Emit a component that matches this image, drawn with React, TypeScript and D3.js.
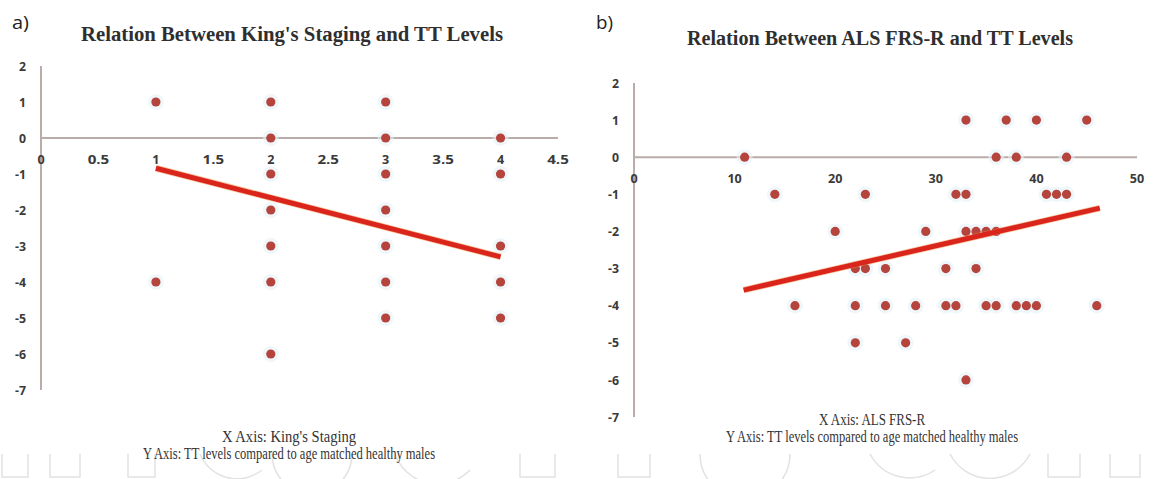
import React from "react";
import * as d3 from "d3";

// panel a) King's staging vs TT levels
const kingX = [1, 1, 2, 2, 2, 2, 2, 2, 2, 3, 3, 3, 3, 3, 3, 3, 4, 4, 4, 4, 4];
const kingY = [1, -4, 1, 0, -1, -2, -3, -4, -6, 1, 0, -1, -2, -3, -4, -5, 0, -1, -3, -4, -5];
const kingTrendX = [1, 4];
const kingTrendY = [-0.84, -3.3];
const kingXTicks = [0, 0.5, 1, 1.5, 2, 2.5, 3, 3.5, 4, 4.5];

// panel b) ALS FRS-R vs TT levels
const alsX = [
  33, 37, 40, 45,
  11, 36, 38, 43,
  14, 23, 32, 33, 41, 42, 43,
  20, 29, 33, 34, 35, 36,
  22, 23, 25, 31, 34,
  16, 22, 25, 28, 31, 32, 35, 36, 38, 39, 40, 46,
  22, 27,
  33,
];
const alsY = [
  1, 1, 1, 1,
  0, 0, 0, 0,
  -1, -1, -1, -1, -1, -1, -1,
  -2, -2, -2, -2, -2, -2,
  -3, -3, -3, -3, -3,
  -4, -4, -4, -4, -4, -4, -4, -4, -4, -4, -4, -4,
  -5, -5,
  -6,
];
const alsTrendX = [10.9, 46.3];
const alsTrendY = [-3.58, -1.37];
const alsXTicks = [0, 10, 20, 30, 40, 50];

const yTicks = [2, 1, 0, -1, -2, -3, -4, -5, -6, -7];

const axisColor = "#b9aca9";
const dotColor = "#b5443d";
const trendColor = "#d9251b";
const labelFont = "'Open Sans', sans-serif";
const serif = "'Liberation Serif', 'Times New Roman', serif";

type PanelProps = {
  xs: number[];
  ys: number[];
  trendX: number[];
  trendY: number[];
  xTicks: number[];
  x: d3.ScaleLinear<number, number>;
  y: d3.ScaleLinear<number, number>;
};

const Panel = ({ xs, ys, trendX, trendY, xTicks, x, y }: PanelProps) => {
  const line = d3
    .line<number>()
    .x((d) => x(d))
    .y((d, i) => y(trendY[i]));
  const [x0, xMax] = x.domain();
  return (
    <g>
      {/* axes */}
      <line x1={x(x0)} x2={x(x0)} y1={y(2)} y2={y(-7)} stroke={axisColor} strokeWidth={2} />
      <line x1={x(x0)} x2={x(xMax)} y1={y(0)} y2={y(0)} stroke={axisColor} strokeWidth={2} />
      {yTicks.map((t) => (
        <text
          key={"y" + t}
          x={x(x0) - 15}
          y={y(t)}
          dy="0.36em"
          textAnchor="end"
          fontFamily={labelFont}
          fontWeight={700}
          fontSize={13}
          fill="#3a3a3a"
          textLength={String(t).length > 1 ? 11 : 7}
          lengthAdjust="spacingAndGlyphs"
        >
          {t}
        </text>
      ))}
      {xTicks.map((t) => (
        <text
          key={"x" + t}
          x={x(t)}
          y={y(0) + 26}
          textAnchor="middle"
          fontFamily={labelFont}
          fontWeight={700}
          fontSize={13}
          fill="#3a3a3a"
          textLength={String(t).length * 7.2}
          lengthAdjust="spacingAndGlyphs"
        >
          {t}
        </text>
      ))}
      {/* points */}
      {xs.map((d, i) => (
        <circle key={i} cx={x(d)} cy={y(ys[i])} r={8} fill="#e6f1f8" opacity={0.6} />
      ))}
      {xs.map((d, i) => (
        <circle key={"p" + i} cx={x(d)} cy={y(ys[i])} r={4.6} fill={dotColor} />
      ))}
      {/* trend line */}
      <path d={line(trendX) || ""} stroke="#f08a3c" strokeWidth={6.5} fill="none" opacity={0.5} />
      <path d={line(trendX) || ""} stroke={trendColor} strokeWidth={5} fill="none" />
    </g>
  );
};

const App = () => {
  const xLeft = d3.scaleLinear().domain([0, 4.5]).range([41, 558]);
  const yLeft = d3.scaleLinear().domain([-7, 2]).range([390, 66]);
  const xRight = d3.scaleLinear().domain([0, 50]).range([634, 1137]);
  const yRight = d3.scaleLinear().domain([-7, 2]).range([417, 83]);

  return (
    <svg
      width={1159}
      height={479}
      style={{ position: "absolute", left: 0, top: 0, background: "#fff" }}
    >
      <rect width={1159} height={479} fill="#fff" />

      {/* faint watermark outlines along the bottom */}
      <g stroke="#e2e2e2" strokeWidth={1.5} fill="none">
        <path d="M2,454 V477 H28 V454" />
        <path d="M50,454 V477 H80 V454" />
        <path d="M128,454 V477 H155 V454" />
        <path d="M200,454 A40,40 0 0 0 262,470" />
        <path d="M272,454 A40,40 0 0 0 352,454" />
        <path d="M395,454 A45,45 0 0 0 470,470" />
        <path d="M520,454 V477 H555 V454" />
        <path d="M618,454 V477 H650 V454" />
        <path d="M700,454 A45,45 0 0 0 790,454" />
        <path d="M870,454 A45,45 0 0 0 935,470" />
        <path d="M950,454 A45,45 0 0 0 1030,454" />
        <path d="M1048,454 V477 H1080 V454" />
        <path d="M1110,454 V477 H1140 V454" />
      </g>

      {/* panel letters and titles */}
      <text x={12} y={29} fontFamily={labelFont} fontSize={18} fill="#222" textLength={17} lengthAdjust="spacingAndGlyphs">
        a)
      </text>
      <text x={596} y={29} fontFamily={labelFont} fontSize={18} fill="#222" textLength={17} lengthAdjust="spacingAndGlyphs">
        b)
      </text>
      <text
        x={292}
        y={41}
        textAnchor="middle"
        fontFamily={serif}
        fontWeight={700}
        fontSize={20}
        fill="#2f2f2f"
        textLength={422}
        lengthAdjust="spacingAndGlyphs"
      >
        Relation Between King's Staging and TT Levels
      </text>
      <text
        x={880}
        y={45}
        textAnchor="middle"
        fontFamily={serif}
        fontWeight={700}
        fontSize={20}
        fill="#2f2f2f"
        textLength={386}
        lengthAdjust="spacingAndGlyphs"
      >
        Relation Between ALS FRS-R and TT Levels
      </text>

      <Panel
        xs={kingX}
        ys={kingY}
        trendX={kingTrendX}
        trendY={kingTrendY}
        xTicks={kingXTicks}
        x={xLeft}
        y={yLeft}
      />
      <Panel
        xs={alsX}
        ys={alsY}
        trendX={alsTrendX}
        trendY={alsTrendY}
        xTicks={alsXTicks}
        x={xRight}
        y={yRight}
      />

      {/* axis captions */}
      <text x={289} y={442} textAnchor="middle" fontFamily={serif} fontSize={16} fill="#333" textLength={134} lengthAdjust="spacingAndGlyphs">
        X Axis: King's Staging
      </text>
      <text x={289} y={459} textAnchor="middle" fontFamily={serif} fontSize={16} fill="#333" textLength={292} lengthAdjust="spacingAndGlyphs">
        Y Axis: TT levels compared to age matched healthy males
      </text>
      <text x={872} y={425} textAnchor="middle" fontFamily={serif} fontSize={16} fill="#333" textLength={106} lengthAdjust="spacingAndGlyphs">
        X Axis: ALS FRS-R
      </text>
      <text x={872} y={442} textAnchor="middle" fontFamily={serif} fontSize={16} fill="#333" textLength={292} lengthAdjust="spacingAndGlyphs">
        Y Axis: TT levels compared to age matched healthy males
      </text>
    </svg>
  );
};

export default App;
